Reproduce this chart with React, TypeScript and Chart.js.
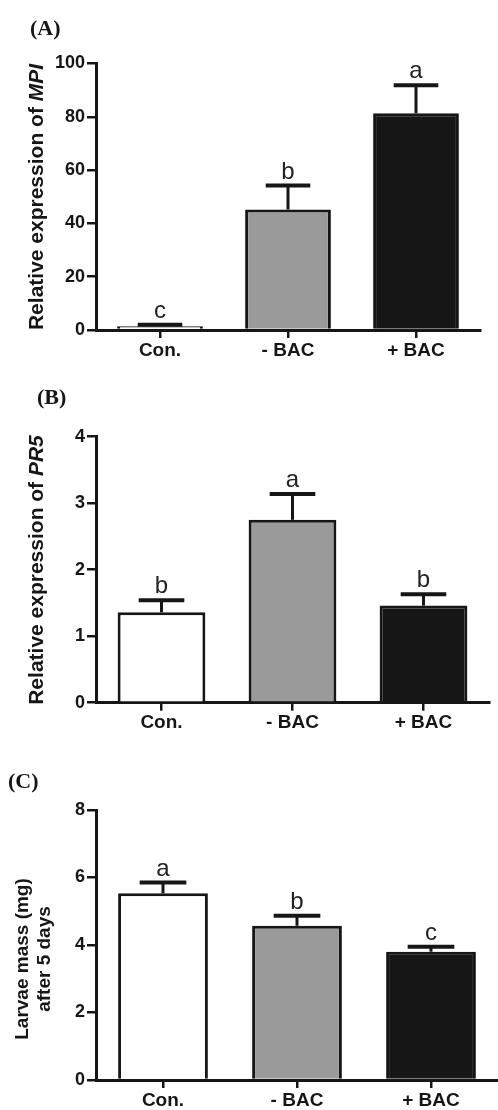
import React, { useEffect, useRef } from "react";
import { Chart, registerables } from "chart.js";

Chart.register(...registerables);

// ---------- data ----------
const categories = ["Con.", "- BAC", "+ BAC"];
const barColors = ["#ffffff", "#9a9a9a", "#161616"];

const mpiMeans = [1.4, 45.2, 81.3];
const mpiErrors = [0.6, 9.0, 10.5];
const mpiLetters = ["c", "b", "a"];
const mpiTickMax = 100;
const mpiTickStep = 20;

const pr5Means = [1.36, 2.75, 1.46];
const pr5Errors = [0.18, 0.39, 0.17];
const pr5Letters = ["b", "a", "b"];
const pr5TickMax = 4;
const pr5TickStep = 1;

const massMeans = [5.53, 4.57, 3.8];
const massErrors = [0.32, 0.3, 0.15];
const massLetters = ["a", "b", "c"];
const massTickMax = 8;
const massTickStep = 2;

// ---------- styling ----------
const INK = "#161616";
const SANS = '"Liberation Sans", Arial, Helvetica, sans-serif';
const SERIF = '"Liberation Serif", "Times New Roman", serif';
const W = 498;

type Seg = { text: string; italic?: boolean };

type PanelConfig = {
  top: number;
  height: number;
  plotLeft: number;
  plotRight: number;
  plotTop: number;
  plotBottom: number;
  means: number[];
  errors: number[];
  letters: string[];
  yMax: number;
  yStep: number;
  titleLines: Seg[][];
  titleX: number[];
  titleCenterY: number;
  titleSize: number;
};

function Panel({ cfg }: { cfg: PanelConfig }) {
  const ref = useRef<HTMLCanvasElement>(null);

  useEffect(() => {
    const canvas = ref.current;
    if (!canvas) return;
    const c = cfg;

    const errorPlugin = {
      id: "errLetters",
      afterDatasetsDraw(chart: any) {
        const ctx = chart.ctx as CanvasRenderingContext2D;
        const meta = chart.getDatasetMeta(0);
        const ys = chart.scales.y;
        ctx.save();
        ctx.strokeStyle = INK;
        ctx.lineCap = "butt";
        meta.data.forEach((bar: any, i: number) => {
          const x = bar.x;
          const top = ys.getPixelForValue(c.means[i] + c.errors[i]);
          const capHalf = bar.width * 0.26;
          ctx.lineWidth = 3;
          ctx.beginPath();
          ctx.moveTo(x, bar.y);
          ctx.lineTo(x, top);
          ctx.stroke();
          ctx.lineWidth = 4;
          ctx.beginPath();
          ctx.moveTo(x - capHalf, top);
          ctx.lineTo(x + capHalf, top);
          ctx.stroke();
          ctx.fillStyle = "#222222";
          ctx.font = `24px ${SANS}`;
          ctx.textAlign = "center";
          ctx.textBaseline = "alphabetic";
          ctx.fillText(c.letters[i], x, top - 7);
        });
        ctx.restore();
      },
    };

    const titlePlugin = {
      id: "yTitleCustom",
      afterDraw(chart: any) {
        const ctx = chart.ctx as CanvasRenderingContext2D;
        const fontFor = (s: Seg) =>
          `${s.italic ? "italic " : ""}bold ${c.titleSize}px ${SANS}`;
        c.titleLines.forEach((segs, li) => {
          ctx.save();
          ctx.translate(c.titleX[li], c.titleCenterY);
          ctx.rotate(-Math.PI / 2);
          let total = 0;
          segs.forEach((s) => {
            ctx.font = fontFor(s);
            total += ctx.measureText(s.text).width;
          });
          let x = -total / 2;
          ctx.textBaseline = "middle";
          ctx.textAlign = "left";
          ctx.fillStyle = INK;
          segs.forEach((s) => {
            ctx.font = fontFor(s);
            ctx.fillText(s.text, x, 0);
            x += ctx.measureText(s.text).width;
          });
          ctx.restore();
        });
      },
    };

    const chart = new Chart(canvas, {
      type: "bar",
      data: {
        labels: categories,
        datasets: [
          {
            data: c.means,
            backgroundColor: barColors,
            borderColor: INK,
            borderWidth: 3,
            categoryPercentage: 1,
            barPercentage: 0.67,
          },
        ],
      },
      options: {
        animation: false,
        responsive: false,
        maintainAspectRatio: false,
        layout: {
          padding: {
            top: c.plotTop,
            right: W - c.plotRight,
            bottom: 0,
            left: 0,
          },
        },
        plugins: {
          legend: { display: false },
          tooltip: { enabled: false },
          title: { display: false },
        },
        scales: {
          x: {
            z: 1,
            offset: true,
            grid: {
              offset: false,
              drawOnChartArea: false,
              drawTicks: true,
              tickLength: 8,
              lineWidth: 2.5,
              color: INK,
            },
            border: { display: true, width: 3, color: INK },
            ticks: {
              color: INK,
              padding: 1,
              font: { family: SANS, size: 19, weight: "bold" },
            },
            afterFit(scale: any) {
              scale.height = c.height - c.plotBottom;
            },
          },
          y: {
            z: 1,
            min: 0,
            max: c.yMax,
            grid: {
              drawOnChartArea: false,
              drawTicks: true,
              tickLength: 9,
              lineWidth: 2.5,
              color: INK,
            },
            border: { display: true, width: 3, color: INK },
            ticks: {
              stepSize: c.yStep,
              color: INK,
              padding: 2,
              font: { family: SANS, size: 18, weight: "bold" },
            },
            afterFit(scale: any) {
              scale.width = c.plotLeft;
            },
          },
        },
      },
      plugins: [errorPlugin, titlePlugin],
    } as any);

    return () => chart.destroy();
  }, [cfg]);

  return (
    <canvas
      ref={ref}
      width={W}
      height={cfg.height}
      style={{
        position: "absolute",
        left: 0,
        top: cfg.top,
        width: W,
        height: cfg.height,
        display: "block",
      }}
    />
  );
}

const panelA: PanelConfig = {
  top: 0,
  height: 370,
  plotLeft: 96,
  plotRight: 480,
  plotTop: 63.5,
  plotBottom: 330,
  means: mpiMeans,
  errors: mpiErrors,
  letters: mpiLetters,
  yMax: mpiTickMax,
  yStep: mpiTickStep,
  titleLines: [[{ text: "Relative expression of " }, { text: "MPI", italic: true }]],
  titleX: [37],
  titleCenterY: 197,
  titleSize: 21,
};

const panelB: PanelConfig = {
  top: 370,
  height: 360,
  plotLeft: 96,
  plotRight: 489,
  plotTop: 66.7,
  plotBottom: 332.7,
  means: pr5Means,
  errors: pr5Errors,
  letters: pr5Letters,
  yMax: pr5TickMax,
  yStep: pr5TickStep,
  titleLines: [[{ text: "Relative expression of " }, { text: "PR5", italic: true }]],
  titleX: [37],
  titleCenterY: 200,
  titleSize: 21,
};

const panelC: PanelConfig = {
  top: 730,
  height: 380,
  plotLeft: 96,
  plotRight: 498,
  plotTop: 80,
  plotBottom: 350,
  means: massMeans,
  errors: massErrors,
  letters: massLetters,
  yMax: massTickMax,
  yStep: massTickStep,
  titleLines: [[{ text: "Larvae mass (mg)" }], [{ text: "after 5 days" }]],
  titleX: [23, 45],
  titleCenterY: 229,
  titleSize: 19,
};

const panelLabelStyle = (left: number, centerY: number): React.CSSProperties => ({
  position: "absolute",
  left,
  top: centerY - 12,
  height: 24,
  lineHeight: "24px",
  fontFamily: SERIF,
  fontWeight: "bold",
  fontSize: 22,
  color: INK,
  whiteSpace: "nowrap",
});

export default function App() {
  return (
    <div
      style={{
        position: "absolute",
        left: 0,
        top: 0,
        width: W,
        height: 1110,
        background: "#ffffff",
        overflow: "hidden",
      }}
    >
      <Panel cfg={panelA} />
      <Panel cfg={panelB} />
      <Panel cfg={panelC} />
      <div style={panelLabelStyle(30, 28)}>(A)</div>
      <div style={panelLabelStyle(37, 397)}>(B)</div>
      <div style={panelLabelStyle(8, 781)}>(C)</div>
    </div>
  );
}
